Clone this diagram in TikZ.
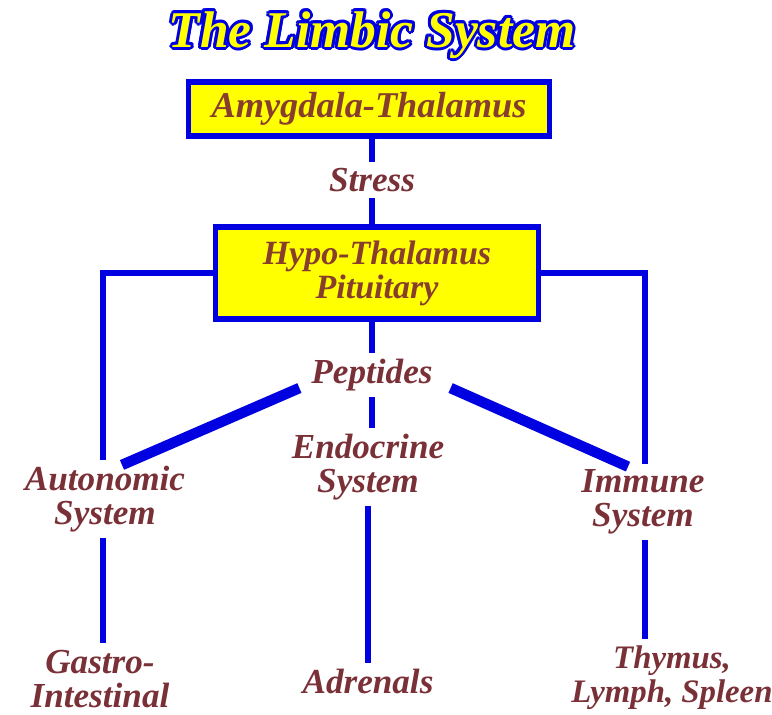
\documentclass[tikz,border=0pt]{standalone}
\usepackage{fontspec}
\setmainfont{Liberation Serif}
\usepackage{tikz}
\usetikzlibrary{calc, positioning}
\definecolor{wireblue}{RGB}{0,0,225}
\definecolor{boxyellow}{RGB}{255,255,0}
\definecolor{boxtext}{RGB}{135,62,45}
\definecolor{lbltext}{RGB}{122,48,55}

\begin{document}
\begin{tikzpicture}[x=0.03cm, y=-0.03cm,
    box/.style={draw=wireblue, line width=4.5pt, fill=boxyellow, text=boxtext,
        font=\fontsize{29}{29}\selectfont\bfseries\itshape, align=center, inner sep=0pt},
    lbl/.style={text=lbltext, font=\fontsize{30}{29}\selectfont\bfseries\itshape,
        align=center, inner sep=5pt},
    wire/.style={draw=wireblue, line width=4.5pt},
    fat/.style={draw=wireblue, line width=9pt}]
    % 画布大小
    \useasboundingbox (0,0) rectangle (772,714);

    % --- 标题 ---
    \def\ttl{\fontsize{44}{46}\selectfont\bfseries\itshape The Limbic System}
    \foreach \a in {0,30,...,330}
        \node[text=wireblue] at ([shift={(\a:2.6pt)}] 372,35) {\ttl};
    \node[text=boxyellow] (title) at (372,35) {\ttl};

    % --- 方框 ---
    \node[box, minimum width=10.83cm, minimum height=1.62cm] (amyg) at (369,109)
        {\fontsize{31}{31}\selectfont Amygdala-Thalamus};
    \node[lbl] (stress) at (372,180) {Stress};
    \node[box, minimum width=9.69cm, minimum height=2.76cm] (hypo) at (377,273) {Hypo-Thalamus\\Pituitary};

    % --- 文字节点 ---
    \node[lbl] (pep) at (372,375) {Peptides};
    \node[lbl] (auto) at (105,499) {Autonomic\\System};
    \node[lbl] (endo) at (368,467) {Endocrine\\System};
    \node[lbl] (immu) at (643,502) {Immune\\System};
    \node[lbl, inner sep=2pt] (gastro) at (100,679) {Gastro-\\Intestinal};
    \node[lbl] (adren) at (368,681) {Adrenals};
    \node[lbl, inner sep=2pt, font=\fontsize{28}{29}\selectfont\bfseries\itshape] (thym) at (672,678) {Thymus,\\Lymph, Spleen};

    % --- 连线 ---
    \draw[wire] (amyg.south -| stress) -- (stress);
    \draw[wire] (stress) -- (stress |- hypo.north);
    \draw[wire] (hypo.south -| pep) -- (pep);
    \draw[wire] (pep) -- (pep |- endo.north);
    \draw[wire] (hypo.west) -| (auto.north -| 103,0);
    \draw[wire] (hypo.east) -| (immu.north -| 645,0);
    \draw[fat] ([shift={(-6,-9)}]pep.south west) -- ([shift={(17,5)}]auto.north);
    \draw[fat] ([shift={(12,-9)}]pep.south east) -- ([shift={(-15,3)}]immu.north);

    \draw[wire] (auto.south -| 103,0) -- ([yshift=4pt]gastro.north -| 103,0);
    \draw[wire] (endo) -- (endo |- adren.north);
    \draw[wire] (immu.south -| 645,0) -- ([yshift=4pt]thym.north -| 645,0);
\end{tikzpicture}
\end{document}
